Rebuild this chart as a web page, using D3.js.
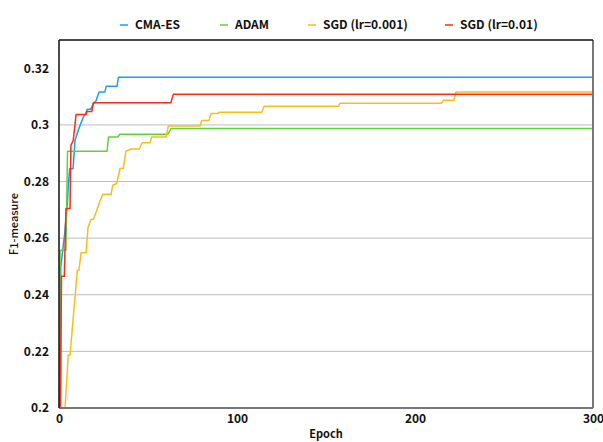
<!DOCTYPE html>
<html>
<head>
<meta charset="utf-8">
<script src="https://cdn.jsdelivr.net/npm/d3@7"></script>
<style>
  body { margin: 0; background: #fff; }
  svg text { font-family: "Noto Sans CJK JP", "Noto Sans", sans-serif; fill: #111; }
</style>
</head>
<body>
<div id="chart" style="width:603px;height:442px"></div>
<script>
// best-so-far F1 per epoch
const cmaEpochs = [0, 0.7, 1.0, 3.2, 4.7, 5.4, 6.0, 7.9, 9.0, 9.9, 11.2, 12.2, 13.7, 15.0, 15.9, 17.8, 18.4, 19.3, 20.8, 22.5, 25.7, 26.6, 32.6, 33.4, 300];
const cmaValues = [0.2, 0.2, 0.2498, 0.2617, 0.2723, 0.28, 0.2845, 0.2845, 0.2945, 0.2963, 0.2987, 0.3004, 0.3028, 0.304, 0.3055, 0.3055, 0.3063, 0.3075, 0.3085, 0.3116, 0.3116, 0.3137, 0.3137, 0.3168, 0.3168];

const adamEpochs = [0.3, 0.6, 3.9, 4.8, 27.0, 27.8, 33.1, 34.0, 61.2, 62.9, 300];
const adamValues = [0.2, 0.2557, 0.2557, 0.2907, 0.2907, 0.2957, 0.2957, 0.2967, 0.2967, 0.2987, 0.2987];

const sgd001Epochs = [3.4, 5.2, 6.2, 10.3, 11.2, 12.4, 15.2, 16.3, 18.0, 19.3, 21.2, 22.6, 24.6, 29.2, 30.2, 32.4, 34.3, 36.1, 37.6, 40.4, 45.1, 46.8, 51.1, 52.1, 60.1, 61.4, 79.2, 80.2, 84.3, 85.4, 89.2, 89.9, 113.9, 115.2, 156.9, 157.9, 215.0, 215.9, 221.9, 223.0, 300];
const sgd001Values = [0.2, 0.2187, 0.2187, 0.2487, 0.2487, 0.2548, 0.2548, 0.2638, 0.2667, 0.2667, 0.2698, 0.2724, 0.2755, 0.2755, 0.2787, 0.2793, 0.2846, 0.2846, 0.2907, 0.2915, 0.2915, 0.2937, 0.2937, 0.2957, 0.2957, 0.2996, 0.2996, 0.3016, 0.3016, 0.304, 0.304, 0.3045, 0.3045, 0.3066, 0.3066, 0.3077, 0.3077, 0.3087, 0.3087, 0.3116, 0.3116];

const sgd01Epochs = [0.8, 1.4, 3.0, 3.9, 6.2, 6.7, 8.0, 9.6, 15.2, 15.6, 18.4, 19.3, 62.8, 64.2, 300];
const sgd01Values = [0.2, 0.2465, 0.2465, 0.2705, 0.2705, 0.2928, 0.2945, 0.3037, 0.3037, 0.3047, 0.3047, 0.3078, 0.3078, 0.3108, 0.3108];

const seriesNames = ["CMA-ES", "ADAM", "SGD (lr=0.001)", "SGD (lr=0.01)"];
const seriesColors = ["#1f9cf0", "#5fd13a", "#fbbd1e", "#ff2b12"];
const xTicks = [0, 100, 200, 300];
const yTicks = [0.2, 0.22, 0.24, 0.26, 0.28, 0.3, 0.32];
const gridTicks = [0.22, 0.24, 0.26, 0.28, 0.3];

const zip = (xs, ys) => xs.map((e, i) => ({ epoch: e, f1: ys[i] }));
const series = [
  zip(cmaEpochs, cmaValues),
  zip(adamEpochs, adamValues),
  zip(sgd001Epochs, sgd001Values),
  zip(sgd01Epochs, sgd01Values)
];

const width = 603, height = 442;
const margin = { top: 40, right: 10, bottom: 34, left: 59 };

const svg = d3.select("#chart").append("svg")
  .attr("width", width)
  .attr("height", height);

const x = d3.scaleLinear()
  .domain([0, 300])
  .range([margin.left, width - margin.right]);

const y = d3.scaleLinear()
  .domain([0.2, 0.33])
  .range([height - margin.bottom, margin.top]);

// grid
svg.append("g")
  .selectAll("line")
  .data(gridTicks)
  .join("line")
  .attr("x1", x(0)).attr("x2", x(300))
  .attr("y1", d => y(d)).attr("y2", d => y(d))
  .attr("stroke", "#bdbdbd")
  .attr("stroke-width", 1);

// axes
const yAxis = svg.append("g")
  .attr("transform", `translate(${margin.left},0)`)
  .call(d3.axisLeft(y).tickValues(yTicks).tickSize(0).tickPadding(10).tickFormat(d3.format("~g")));
yAxis.select(".domain").remove();
yAxis.selectAll("text").style("font-size", "12px").style("font-weight", 600);

const xAxis = svg.append("g")
  .attr("transform", `translate(0,${height - margin.bottom})`)
  .call(d3.axisBottom(x).tickValues(xTicks).tickSize(0).tickPadding(6));
xAxis.select(".domain").remove();
xAxis.selectAll("text").style("font-size", "12px").style("font-weight", 600);

// lines
const line = d3.line()
  .x(d => x(d.epoch))
  .y(d => y(d.f1));

svg.append("g")
  .selectAll("path")
  .data(series)
  .join("path")
  .attr("d", line)
  .attr("fill", "none")
  .attr("stroke", (d, i) => seriesColors[i])
  .attr("stroke-width", 1.5)
  .attr("stroke-linejoin", "round");

// frame
svg.append("line")
  .attr("x1", x(0)).attr("x2", x(300))
  .attr("y1", y(0.2)).attr("y2", y(0.2))
  .attr("stroke", "#777").attr("stroke-width", 2);
svg.append("line")
  .attr("x1", x(300)).attr("x2", x(300))
  .attr("y1", y(0.33)).attr("y2", y(0.2))
  .attr("stroke", "#777").attr("stroke-width", 2);
svg.append("line")
  .attr("x1", x(0)).attr("x2", x(300))
  .attr("y1", y(0.33)).attr("y2", y(0.33))
  .attr("stroke", "#111").attr("stroke-width", 1.5);
svg.append("line")
  .attr("x1", x(0)).attr("x2", x(0))
  .attr("y1", y(0.33)).attr("y2", y(0.2))
  .attr("stroke", "#111").attr("stroke-width", 1.5);

// axis titles
svg.append("text")
  .attr("x", (x(0) + x(300)) / 2)
  .attr("y", 438)
  .attr("text-anchor", "middle")
  .style("font-size", "11px")
  .style("font-weight", 600)
  .text("Epoch");

svg.append("text")
  .attr("transform", `translate(18,${(y(0.2) + y(0.33)) / 2}) rotate(-90)`)
  .attr("text-anchor", "middle")
  .style("font-size", "11px")
  .style("font-weight", 500)
  .text("F1-measure");

// legend
const legendX = [120, 220, 308, 445];
const legend = svg.append("g");
seriesNames.forEach((name, i) => {
  const lg = legend.append("g").attr("transform", `translate(${legendX[i]},25)`);
  lg.append("line").attr("x1", 0).attr("x2", 8).attr("y1", 0).attr("y2", 0)
    .attr("stroke", seriesColors[i]).attr("stroke-width", 1.5);
  lg.append("text").attr("x", 15).attr("y", 4)
    .style("font-size", "12px").style("font-weight", 600)
    .text(name);
});
</script>
</body>
</html>
